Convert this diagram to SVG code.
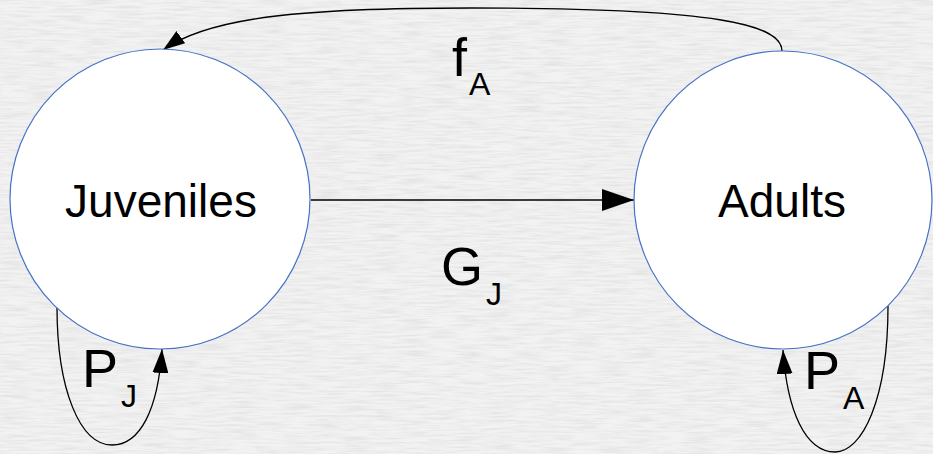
<svg xmlns="http://www.w3.org/2000/svg" width="933" height="454" viewBox="0 0 933 454">
  <defs>
    <filter id="paper" x="0" y="0" width="933" height="454" filterUnits="userSpaceOnUse">
      <feTurbulence type="fractalNoise" baseFrequency="0.035 0.45" numOctaves="3" seed="4"/>
      <feColorMatrix type="matrix" values="0 0 0 0 0.6  0 0 0 0 0.6  0 0 0 0 0.6  0.8 0 0 0 -0.3"/>
    </filter>
    <marker id="ahSmall" markerUnits="userSpaceOnUse" markerWidth="24" markerHeight="16" refX="24" refY="8" orient="auto" viewBox="0 0 24 16">
      <path d="M0,0 L24,8 L0,16 Z" fill="#000"/>
    </marker>
    <marker id="ahTop" markerUnits="userSpaceOnUse" markerWidth="22" markerHeight="15" refX="22" refY="7.5" orient="auto" viewBox="0 0 22 15">
      <path d="M0,0 L22,7.5 L0,15 Z" fill="#000"/>
    </marker>
    <marker id="ahBig" markerUnits="userSpaceOnUse" markerWidth="32" markerHeight="22" refX="32" refY="11" orient="auto" viewBox="0 0 32 22">
      <path d="M0,0 L32,11 L0,22 Z" fill="#000"/>
    </marker>
  </defs>
  <style>
    .node { fill: #ffffff; stroke: #4472c4; stroke-width: 1.2; }
    .name { font-family: "Liberation Sans", Arial, sans-serif; font-size: 46px; fill: #000; text-anchor: middle; }
    .lbl { font-family: "Liberation Sans", Arial, sans-serif; font-size: 54px; fill: #000; }
    .sub { font-family: "Liberation Sans", Arial, sans-serif; font-size: 32px; fill: #000; }
    .edge { fill: none; stroke: #000; stroke-width: 1.3; }
  </style>
  <rect x="0" y="0" width="933" height="454" fill="#f2f2f2"/>
  <rect x="0" y="0" width="933" height="454" filter="url(#paper)"/>

  <g id="connectors">
    <path id="e-fA" class="edge" d="M782,51 C782,25 720,8 470,8 C310,8 210,16 163,50" marker-end="url(#ahTop)"/>
    <path id="e-GJ" class="edge" d="M311,200 L634,200" marker-end="url(#ahBig)"/>
    <path id="e-PJ" class="edge" d="M57,307 C57,390 80,445 112,445 C140,445 158,410 162,349" marker-end="url(#ahSmall)"/>
    <path id="e-PA" class="edge" d="M888,306 C888,400 862,452 835,452 C805,452 787,410 783,350" marker-end="url(#ahSmall)"/>
  </g>

  <g id="juveniles">
    <circle class="node" cx="160" cy="199" r="150"/>
    <text class="name" x="161" y="217">Juveniles</text>
  </g>
  <g id="adults">
    <circle class="node" cx="783" cy="200" r="149"/>
    <text class="name" x="782" y="217">Adults</text>
  </g>

  <g id="labels">
    <text class="lbl" x="452" y="76">f</text><text class="sub" x="469" y="95">A</text>
    <text class="lbl" x="441" y="285">G</text><text class="sub" x="486" y="305">J</text>
    <text class="lbl" x="82" y="387">P</text><text class="sub" x="121" y="407">J</text>
    <text class="lbl" x="804" y="389">P</text><text class="sub" x="843" y="409">A</text>
  </g>
</svg>
